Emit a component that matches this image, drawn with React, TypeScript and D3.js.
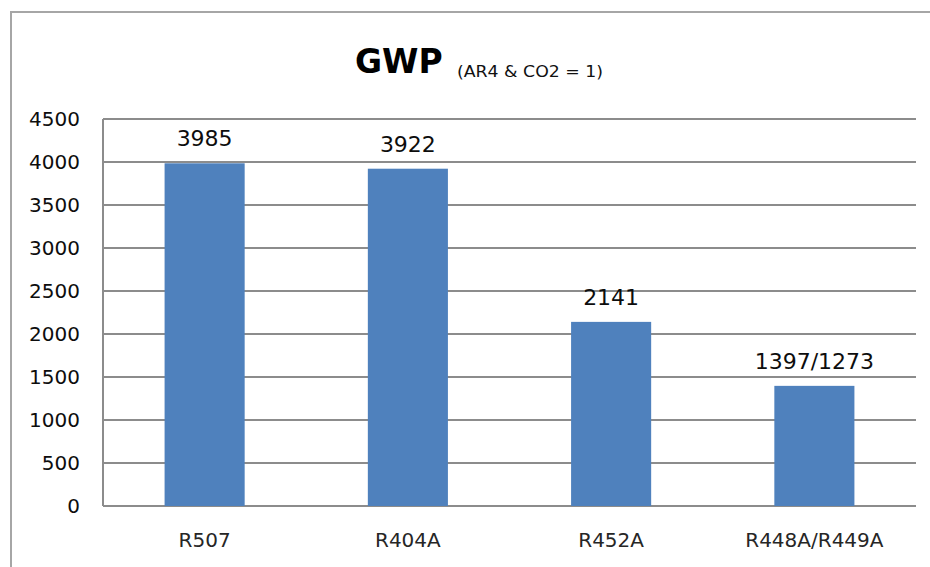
import React from 'react';
import * as d3 from 'd3';

const categories = ['R507', 'R404A', 'R452A', 'R448A/R449A'];
const gwpValues = [3985, 3922, 2141, 1397];
const valueLabels = ['3985', '3922', '2141', '1397/1273'];
const yTickValues = [0, 500, 1000, 1500, 2000, 2500, 3000, 3500, 4000, 4500];

const FONT = '"DejaVu Sans", Verdana, sans-serif';
const BAR = '#4f81bd';
const GRID = '#8c8c8c';

export default function App() {
  const width = 930;
  const height = 567;
  const plot = { left: 103, right: 916, top: 119, bottom: 506 };

  const x = d3.scaleBand<string>()
    .domain(categories)
    .range([plot.left, plot.right])
    .paddingInner(0.606)
    .paddingOuter(0.303);

  const y = d3.scaleLinear()
    .domain([0, 4500])
    .range([plot.bottom, plot.top]);

  return (
    <svg
      width={width}
      height={height}
      style={{ position: 'absolute', left: 0, top: 0, background: '#fff' }}
    >
      {/* outer chart border, runs off the right and bottom */}
      <rect x={11} y={12} width={width + 10} height={height + 10} fill="none" stroke="#a6a6a6" strokeWidth={2} />

      {/* title */}
      <text x={355} y={73} fontFamily={FONT} fontWeight="bold" fontSize={33} fill="#000">GWP</text>
      <text x={457} y={77} fontFamily={FONT} fontSize={16} fill="#111" textLength={146} lengthAdjust="spacingAndGlyphs">
        (AR4 &amp; CO2 = 1)
      </text>

      {/* gridlines */}
      {yTickValues.map(t => (
        <line key={t} x1={plot.left} x2={plot.right} y1={y(t)} y2={y(t)} stroke={GRID} strokeWidth={2} />
      ))}
      <line x1={plot.left} x2={plot.left} y1={plot.top} y2={plot.bottom} stroke={GRID} strokeWidth={2} />

      {/* y tick labels */}
      {yTickValues.map(t => (
        <text key={t} x={80} y={y(t) + 7} textAnchor="end" fontFamily={FONT} fontSize={20} fill="#0d0d0d">
          {t}
        </text>
      ))}

      {/* bars and value labels */}
      {categories.map((c, i) => (
        <g key={c}>
          <rect
            x={x(c)}
            y={y(gwpValues[i])}
            width={x.bandwidth()}
            height={plot.bottom - y(gwpValues[i])}
            fill={BAR}
          />
          <text
            x={(x(c) ?? 0) + x.bandwidth() / 2}
            y={y(gwpValues[i]) - 17}
            textAnchor="middle"
            fontFamily={FONT}
            fontSize={22}
            fill="#0d0d0d"
          >
            {valueLabels[i]}
          </text>
          <text
            x={(x(c) ?? 0) + x.bandwidth() / 2}
            y={547}
            textAnchor="middle"
            fontFamily={FONT}
            fontSize={20}
            fill="#262626"
          >
            {c}
          </text>
        </g>
      ))}
    </svg>
  );
}
